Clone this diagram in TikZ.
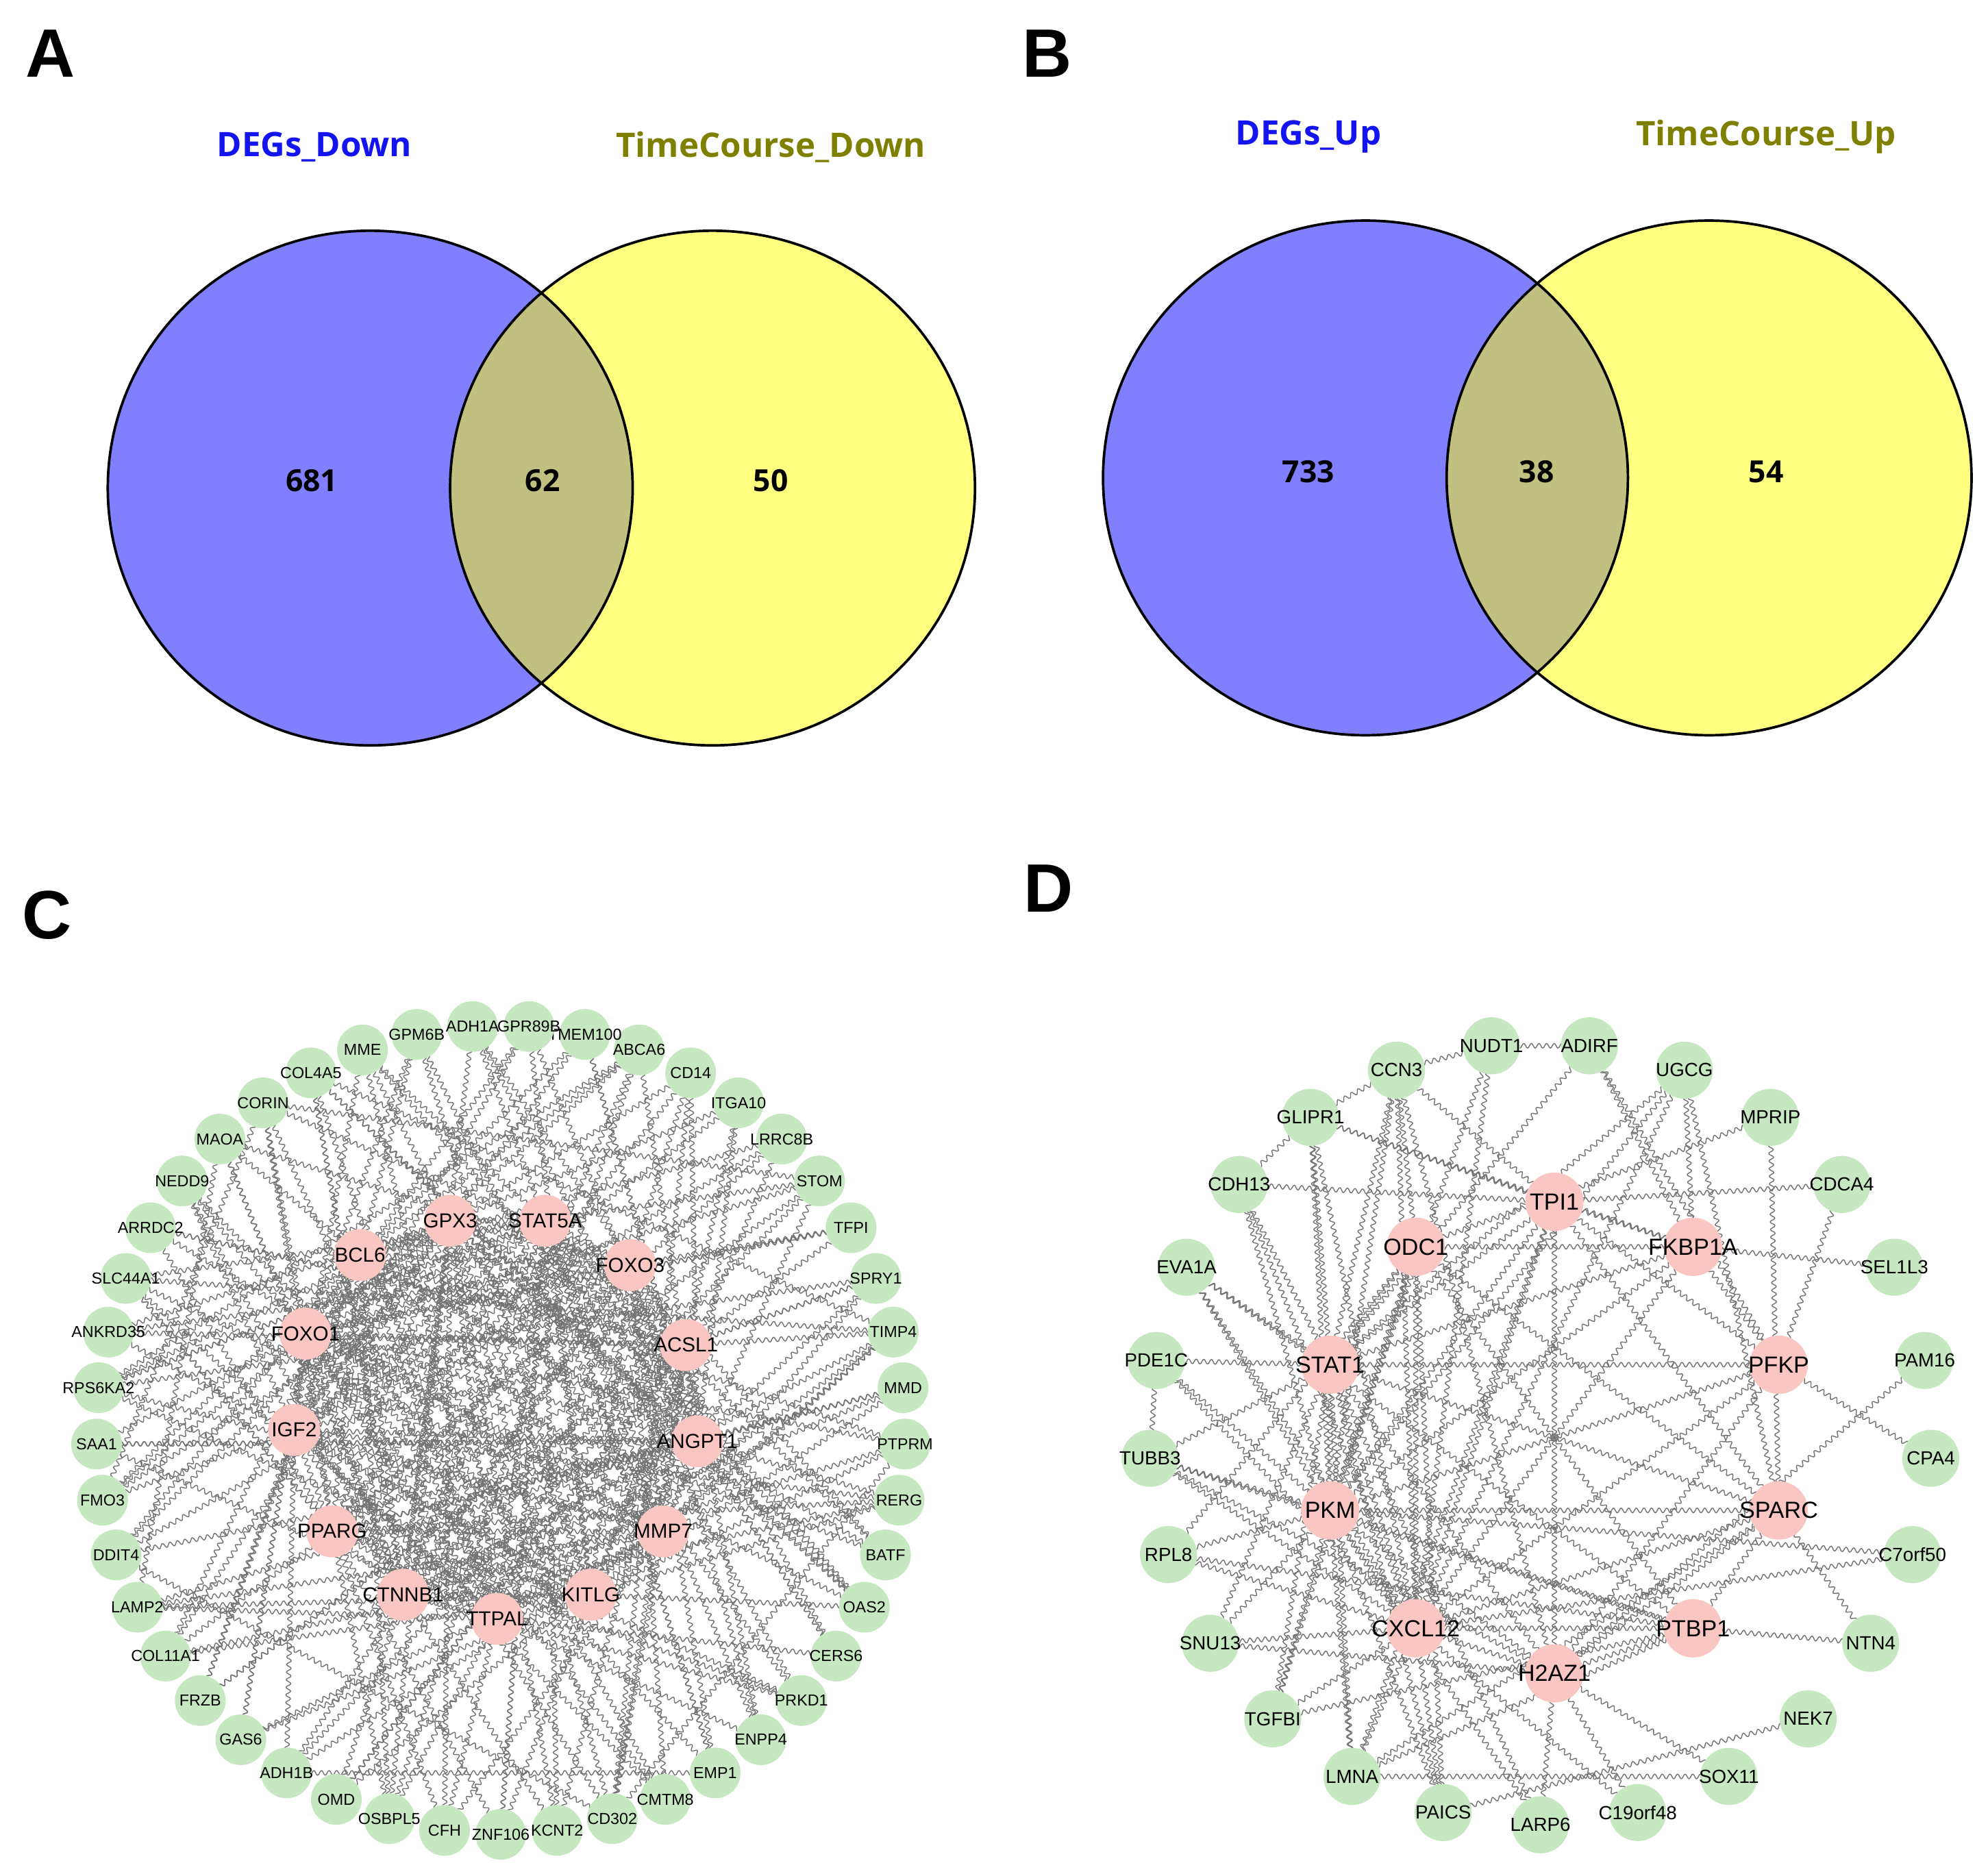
\documentclass[tikz,border=0pt]{standalone}
\usepackage{fontspec}
\setmainfont{Liberation Sans}
\newfontfamily\vennfont{Open Sans}
\usetikzlibrary{decorations}
\pgfdeclaredecoration{wavy}{up}{
  \state{up}[width=+.5\pgfdecorationsegmentlength, next state=down,
     switch if less than=+.5\pgfdecorationsegmentlength to final]{
    \pgfpathcurveto{\pgfqpoint{.1667\pgfdecorationsegmentlength}{1.333\pgfdecorationsegmentamplitude}}
                   {\pgfqpoint{.3333\pgfdecorationsegmentlength}{1.333\pgfdecorationsegmentamplitude}}
                   {\pgfqpoint{.5\pgfdecorationsegmentlength}{0pt}}
  }
  \state{down}[width=+.5\pgfdecorationsegmentlength, next state=up,
     switch if less than=+.5\pgfdecorationsegmentlength to final]{
    \pgfpathcurveto{\pgfqpoint{.1667\pgfdecorationsegmentlength}{-1.333\pgfdecorationsegmentamplitude}}
                   {\pgfqpoint{.3333\pgfdecorationsegmentlength}{-1.333\pgfdecorationsegmentamplitude}}
                   {\pgfqpoint{.5\pgfdecorationsegmentlength}{0pt}}
  }
  \state{final}{\pgfpathlineto{\pgfpointdecoratedpathlast}}
}
\definecolor{vblue}{RGB}{128,128,255}
\definecolor{vyellow}{RGB}{255,255,128}
\definecolor{vmix}{RGB}{192,192,128}
\definecolor{lblue}{RGB}{20,20,240}
\definecolor{lolive}{RGB}{128,128,0}
\definecolor{ngreen}{RGB}{198,232,192}
\definecolor{npink}{RGB}{250,198,194}
\definecolor{edgegray}{RGB}{115,115,115}
\tikzset{
 panel/.style={font=\fontsize{27}{27}\selectfont\bfseries, inner sep=0pt},
 vlabel/.style={font=\vennfont\fontsize{13.3}{14}\selectfont\bfseries, inner sep=0pt},
 vnum/.style={font=\vennfont\fontsize{12}{12}\selectfont\bfseries, inner sep=0pt},
 vring/.style={x radius=103.5pt, y radius=101.5pt},
 edge/.style={draw=edgegray, line width=0.38pt, decorate, decoration={wavy, segment length=3pt, amplitude=0.9pt}},
 gC/.style={circle, fill=ngreen, minimum size=20pt, inner sep=0pt},
 pC/.style={circle, fill=npink, minimum size=20.5pt, inner sep=0pt},
 gD/.style={circle, fill=ngreen, minimum size=22.5pt, inner sep=0pt},
 pD/.style={circle, fill=npink, minimum size=23pt, inner sep=0pt},
 glC/.style={font=\fontsize{6.3}{7}\selectfont, inner sep=0pt},
 plC/.style={font=\fontsize{8}{9}\selectfont, inner sep=0pt},
 glD/.style={font=\fontsize{7.5}{8}\selectfont, inner sep=0pt},
 plD/.style={font=\fontsize{9.2}{10}\selectfont, inner sep=0pt},
}
\begin{document}
\begin{tikzpicture}[x=0.5pt,y=-0.5pt]
\useasboundingbox (0,0) rectangle (1568,1478);
\fill[white] (0,0) rectangle (1568,1478);
% ---------------- panel letters
\node[panel] (lA) at (40,42) {A};
\node[panel] (lB) at (826,42) {B};
\node[panel] (lC) at (37,722) {C};
\node[panel] (lD) at (827,701) {D};
% ---------------- Venn A
\fill[vblue] (292,385) ellipse [vring];
\fill[vyellow] (562,385) ellipse [vring];
\begin{scope}
\clip (292,385) ellipse [vring];
\fill[vmix] (562,385) ellipse [vring];
\end{scope}
\draw[line width=1pt] (292,385) ellipse [vring];
\draw[line width=1pt] (562,385) ellipse [vring];
\node[vlabel, text=lblue] (aL) at (248,116) {DEGs\_Down};
\node[vlabel, text=lolive] (aR) at (608,116) {TimeCourse\_Down};
\node[vnum] (a1) at (246,379) {681};
\node[vnum] (a2) at (428,379) {62};
\node[vnum] (a3) at (608,379) {50};
% ---------------- Venn B
\fill[vblue] (1077,377) ellipse [vring];
\fill[vyellow] (1348,377) ellipse [vring];
\begin{scope}
\clip (1077,377) ellipse [vring];
\fill[vmix] (1348,377) ellipse [vring];
\end{scope}
\draw[line width=1pt] (1077,377) ellipse [vring];
\draw[line width=1pt] (1348,377) ellipse [vring];
\node[vlabel, text=lblue] (bL) at (1032,108) {DEGs\_Up};
\node[vlabel, text=lolive] (bR) at (1393,108) {TimeCourse\_Up};
\node[vnum] (b1) at (1032,372) {733};
\node[vnum] (b2) at (1212,372) {38};
\node[vnum] (b3) at (1393,372) {54};
% ---------------- node positions
\foreach \i in {1,...,45}
  \coordinate (g\i) at ({395+319*cos(262+8*\i)},{1128-319*sin(262+8*\i)});
\foreach \x/\y [count=\i] in {392/1277,466/1258,523/1208,550/1137,541/1061,497/998,430/963,355/963,284/990,241/1052,232/1128,262/1208,318/1258}
  \coordinate (p\i) at (\x,\y);
\foreach \n [count=\i] in {LARP6,C19orf48,SOX11,NEK7,NTN4,C7orf50,CPA4,PAM16,SEL1L3,CDCA4,MPRIP,UGCG,ADIRF,NUDT1,CCN3,GLIPR1,CDH13,EVA1A,PDE1C,TUBB3,RPL8,SNU13,TGFBI,LMNA,PAICS}
  \coordinate (\n) at ({1215+308.5*cos(255.6+14.4*\i)},{1131-308.5*sin(255.6+14.4*\i)});
\foreach \n [count=\i] in {H2AZ1,PTBP1,SPARC,PFKP,FKBP1A,TPI1,ODC1,STAT1,PKM,CXCL12}
  \coordinate (\n) at ({1226+186*cos(234+36*\i)},{1134-186*sin(234+36*\i)});
% ---------------- edges C
\pgfmathsetseed{4242}
\foreach \i in {1,...,12}{
  \pgfmathtruncatemacro{\s}{\i+1}
  \foreach \j in {\s,...,13}{ \draw[edge] (p\i) -- (p\j); }
}
\foreach \i in {1,...,45}{
  \foreach \k in {1,...,4}{
    \pgfmathrandominteger{\rr}{1}{13}
    \draw[edge] (g\i) -- (p\rr);
  }
}
\foreach \k in {1,...,18}{
  \pgfmathrandominteger{\aa}{1}{45}
  \pgfmathrandominteger{\off}{6}{38}
  \pgfmathtruncatemacro{\bb}{mod(\aa+\off,45)+1}
  \draw[edge] (g\aa) -- (g\bb);
}
% ---------------- edges D
\foreach \a/\b in {TPI1/FKBP1A,TPI1/PKM,TPI1/STAT1,TPI1/CXCL12,TPI1/H2AZ1,TPI1/PFKP,TPI1/SPARC,
 ODC1/FKBP1A,ODC1/STAT1,ODC1/PKM,ODC1/CXCL12,ODC1/PTBP1,ODC1/SPARC,
 FKBP1A/PFKP,FKBP1A/PKM,FKBP1A/CXCL12,FKBP1A/STAT1,
 STAT1/PKM,STAT1/CXCL12,STAT1/SPARC,STAT1/PFKP,STAT1/H2AZ1,
 PKM/CXCL12,PKM/PTBP1,PKM/SPARC,PKM/H2AZ1,PKM/PFKP,
 SPARC/CXCL12,SPARC/PTBP1,PFKP/CXCL12,PFKP/H2AZ1,CXCL12/PTBP1,CXCL12/H2AZ1,H2AZ1/PTBP1,SPARC/H2AZ1,
 NUDT1/CCN3,NUDT1/ADIRF,NUDT1/CXCL12,NUDT1/PKM,
 ADIRF/FKBP1A,ADIRF/PFKP,ADIRF/STAT1,
 UGCG/FKBP1A,UGCG/PKM,UGCG/CXCL12,UGCG/STAT1,UGCG/SPARC,
 MPRIP/SPARC,MPRIP/ODC1,CDCA4/PFKP,CDCA4/TPI1,SEL1L3/FKBP1A,PAM16/H2AZ1,CPA4/PFKP,
 C7orf50/PKM,C7orf50/CXCL12,NTN4/PTBP1,NTN4/SPARC,NEK7/PAICS,SOX11/H2AZ1,SOX11/LMNA,
 C19orf48/H2AZ1,C19orf48/CXCL12,LARP6/H2AZ1,LARP6/PKM,LARP6/STAT1,
 PAICS/CXCL12,PAICS/PKM,PAICS/STAT1,PAICS/ODC1,
 LMNA/CXCL12,LMNA/PKM,LMNA/STAT1,LMNA/TPI1,LMNA/PTBP1,LMNA/SPARC,
 TGFBI/PKM,TGFBI/CXCL12,TGFBI/STAT1,TGFBI/ODC1,TGFBI/PTBP1,
 SNU13/PKM,SNU13/CXCL12,SNU13/H2AZ1,SNU13/STAT1,
 RPL8/PKM,RPL8/CXCL12,RPL8/ODC1,RPL8/PTBP1,
 TUBB3/PKM,TUBB3/CXCL12,TUBB3/STAT1,TUBB3/H2AZ1,TUBB3/PTBP1,
 PDE1C/STAT1,PDE1C/PKM,PDE1C/CXCL12,PDE1C/TUBB3,
 EVA1A/STAT1,EVA1A/PKM,EVA1A/CXCL12,EVA1A/PTBP1,
 CDH13/STAT1,CDH13/PKM,CDH13/TPI1,CDH13/GLIPR1,CDH13/CXCL12,
 GLIPR1/TPI1,GLIPR1/PKM,GLIPR1/CXCL12,GLIPR1/STAT1,GLIPR1/CCN3,GLIPR1/FKBP1A,
 CCN3/TPI1,CCN3/STAT1,CCN3/PKM,CCN3/CXCL12,CCN3/ODC1,CCN3/H2AZ1}
  \draw[edge] (\a) -- (\b);
% ---------------- nodes C
\foreach \n [count=\i] in {ZNF106,KCNT2,CD302,CMTM8,EMP1,ENPP4,PRKD1,CERS6,OAS2,BATF,RERG,PTPRM,MMD,TIMP4,SPRY1,TFPI,STOM,LRRC8B,ITGA10,CD14,ABCA6,TMEM100,GPR89B,ADH1A,GPM6B,MME,COL4A5,CORIN,MAOA,NEDD9,ARRDC2,SLC44A1,ANKRD35,RPS6KA2,SAA1,FMO3,DDIT4,LAMP2,COL11A1,FRZB,GAS6,ADH1B,OMD,OSBPL5,CFH}
  \node[gC, label={[glC]center:\n}] (nC-\n) at (g\i) {};
\foreach \n [count=\i] in {TTPAL,KITLG,MMP7,ANGPT1,ACSL1,FOXO3,STAT5A,GPX3,BCL6,FOXO1,IGF2,PPARG,CTNNB1}
  \node[pC, label={[plC]center:\n}] (nC-\n) at (p\i) {};
% ---------------- nodes D
\foreach \n in {LARP6,C19orf48,SOX11,NEK7,NTN4,C7orf50,CPA4,PAM16,SEL1L3,CDCA4,MPRIP,UGCG,ADIRF,NUDT1,CCN3,GLIPR1,CDH13,EVA1A,PDE1C,TUBB3,RPL8,SNU13,TGFBI,LMNA,PAICS}
  \node[gD, label={[glD]center:\n}] (nD-\n) at (\n) {};
\foreach \n in {H2AZ1,PTBP1,SPARC,PFKP,FKBP1A,TPI1,ODC1,STAT1,PKM,CXCL12}
  \node[pD, label={[plD]center:\n}] (nD-\n) at (\n) {};
\end{tikzpicture}
\end{document}
